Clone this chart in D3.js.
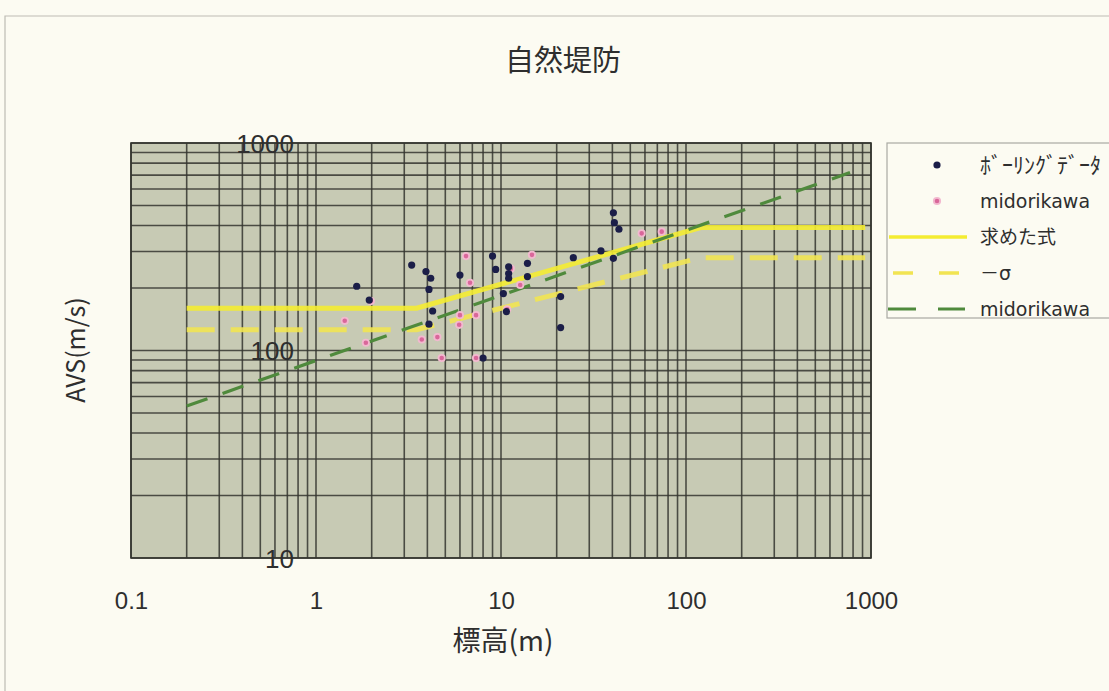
<!DOCTYPE html>
<html>
<head>
<meta charset="utf-8">
<script src="https://cdn.jsdelivr.net/npm/d3@7"></script>
<style>
  html, body { margin: 0; padding: 0; background: #fcfbf2; }
  svg { display: block; }
</style>
</head>
<body>
<svg id="chart" width="1109" height="691"></svg>
<script>
// Boring-log points: [標高 (m), AVS (m/s)]
const boringPoints = [
  [1.66, 204], [1.94, 175], [3.29, 258], [3.93, 240], [4.17, 223],
  [4.08, 197], [4.27, 155], [4.08, 134], [6.0, 231], [9.0, 285],
  [9.36, 246], [11.0, 253], [11.0, 235], [11.0, 223], [13.9, 263],
  [13.9, 227], [10.3, 188], [10.7, 154], [8.0, 92], [21, 182],
  [21, 129], [24.6, 280], [34.7, 302], [40.5, 278], [40.5, 461],
  [41, 413], [43.4, 384]
];

// Points after Midorikawa
const midorikawaPoints = [
  [1.43, 139], [1.86, 109], [1.98, 173], [3.73, 113], [4.53, 116],
  [4.78, 92], [5.94, 133], [6.0, 148], [7.33, 148], [7.33, 92],
  [6.47, 285], [6.8, 212], [11.3, 248], [12.7, 207], [14.7, 289],
  [10.8, 158], [57.6, 367], [73.9, 374]
];

// Fitted relation (求めた式), its −σ curve and the Midorikawa line
const fitLine = [[0.2, 160], [3.5, 160], [120, 391], [930, 391]];
const sigmaLine = [[0.2, 126], [3.5, 126], [120, 280], [930, 280]];
const midorikawaLine = [[0.2, 54], [770, 720]];

const xDomain = [0.1, 1000];
const yDomain = [10, 1000];
const xTickLabels = [0.1, 1, 10, 100, 1000];
const yTickLabels = [10, 100, 1000];

const legendLabels = ["ﾎﾞｰﾘﾝｸﾞﾃﾞｰﾀ", "midorikawa", "求めた式", "－σ", "midorikawa"];

const svg = d3.select("#chart");
const W = 1109, H = 691;
const plot = { left: 131, right: 871, top: 143, bottom: 558 };

const x = d3.scaleLog().domain(xDomain).range([plot.left, plot.right]);
const y = d3.scaleLog().domain(yDomain).range([plot.bottom, plot.top]);

const numFont = "'Liberation Sans', Arial, sans-serif";
const jpFont = "'Noto Sans CJK JP', sans-serif";
const ink = "#2e2e2e";

// Chart-area frame
svg.append("path")
  .attr("d", `M5,${H} V16 H${W}`)
  .attr("fill", "none")
  .attr("stroke", "#bdbcb4")
  .attr("stroke-width", 1.2);

// Title
svg.append("text")
  .attr("x", 563).attr("y", 71)
  .attr("text-anchor", "middle")
  .attr("font-family", jpFont)
  .attr("font-size", 29)
  .attr("fill", ink)
  .text("自然堤防");

// Plot background
svg.append("rect")
  .attr("x", plot.left).attr("y", plot.top)
  .attr("width", plot.right - plot.left)
  .attr("height", plot.bottom - plot.top)
  .attr("fill", "#c7cab4");

// Gridlines at every 1–9 multiple of each decade
const grid = svg.append("g")
  .attr("stroke", "#34352f")
  .attr("stroke-width", 1.6)
  .attr("stroke-opacity", 0.85);
grid.selectAll("line.v").data(x.ticks()).join("line")
  .attr("class", "v")
  .attr("x1", d => x(d)).attr("x2", d => x(d))
  .attr("y1", plot.top).attr("y2", plot.bottom);
grid.selectAll("line.h").data(y.ticks()).join("line")
  .attr("class", "h")
  .attr("y1", d => y(d)).attr("y2", d => y(d))
  .attr("x1", plot.left).attr("x2", plot.right);

// Plot border
svg.append("rect")
  .attr("x", plot.left).attr("y", plot.top)
  .attr("width", plot.right - plot.left)
  .attr("height", plot.bottom - plot.top)
  .attr("fill", "none")
  .attr("stroke", "#34352f")
  .attr("stroke-width", 1.6);

// Clip for data marks
svg.append("clipPath").attr("id", "plotClip")
  .append("rect")
  .attr("x", plot.left).attr("y", plot.top)
  .attr("width", plot.right - plot.left)
  .attr("height", plot.bottom - plot.top);

const marks = svg.append("g").attr("clip-path", "url(#plotClip)");
const line = d3.line().x(d => x(d[0])).y(d => y(d[1]));

const styles = {
  fit:   { stroke: "#f4ec32", width: 5, dash: null },
  sigma: { stroke: "#f1e452", width: 5, dash: "28,16" },
  mido:  { stroke: "#4f8a3c", width: 3.2, dash: "22,16" }
};

marks.append("path").datum(sigmaLine)
  .attr("d", line).attr("fill", "none")
  .attr("stroke", styles.sigma.stroke).attr("stroke-width", styles.sigma.width)
  .attr("stroke-dasharray", styles.sigma.dash).attr("stroke-opacity", 0.9);
marks.append("path").datum(fitLine)
  .attr("d", line).attr("fill", "none")
  .attr("stroke", styles.fit.stroke).attr("stroke-width", styles.fit.width)
  .attr("stroke-opacity", 0.9);
marks.append("path").datum(midorikawaLine)
  .attr("d", line).attr("fill", "none")
  .attr("stroke", styles.mido.stroke).attr("stroke-width", styles.mido.width)
  .attr("stroke-dasharray", styles.mido.dash);

// Scatter points
marks.selectAll("circle.mido").data(midorikawaPoints).join("circle")
  .attr("class", "mido")
  .attr("cx", d => x(d[0])).attr("cy", d => y(d[1]))
  .attr("r", 3.2)
  .attr("fill", "#d9679a")
  .attr("stroke", "#f2b9cf").attr("stroke-width", 1.8);
marks.selectAll("circle.boring").data(boringPoints).join("circle")
  .attr("class", "boring")
  .attr("cx", d => x(d[0])).attr("cy", d => y(d[1]))
  .attr("r", 3.6)
  .attr("fill", "#1b1e48");

// Axes crossing the way the spreadsheet draws them:
// the value axis sits at 標高 = 1, the category axis along AVS = 10.
const fmt = d => String(d);
const yAxis = d3.axisLeft(y).tickValues(yTickLabels).tickFormat(fmt)
  .tickSize(0).tickPadding(22);
const gy = svg.append("g").attr("transform", `translate(${x(1)},0)`).call(yAxis);
gy.select(".domain").remove();
gy.selectAll("text")
  .attr("font-family", numFont).attr("font-size", 26).attr("fill", ink)
  .attr("dy", "0.36em");

const xAxis = d3.axisBottom(x).tickValues(xTickLabels).tickFormat(fmt)
  .tickSize(0).tickPadding(34);
const gx = svg.append("g").attr("transform", `translate(0,${y(10)})`).call(xAxis);
gx.select(".domain").remove();
gx.selectAll("text")
  .attr("font-family", numFont).attr("font-size", 24).attr("fill", ink);

// Axis titles
svg.append("text")
  .attr("transform", "translate(85,350) rotate(-90)")
  .attr("text-anchor", "middle")
  .attr("font-family", jpFont)
  .attr("font-size", 25)
  .attr("fill", ink)
  .text("AVS(m/s)");
svg.append("text")
  .attr("x", 503).attr("y", 651)
  .attr("text-anchor", "middle")
  .attr("font-family", jpFont)
  .attr("font-size", 28)
  .attr("fill", ink)
  .text("標高(m)");

// Legend
const lg = svg.append("g");
lg.append("rect")
  .attr("x", 887).attr("y", 143)
  .attr("width", 240).attr("height", 175)
  .attr("fill", "#fcfbf2")
  .attr("stroke", "#a9a9a2").attr("stroke-width", 1.2);

const rowY = [165, 201, 237, 273, 309];
const legendFont = "'DejaVu Sans', 'Noto Sans CJK JP', sans-serif";
lg.append("circle").attr("cx", 937).attr("cy", rowY[0]).attr("r", 3.6).attr("fill", "#1b1e48");
lg.append("circle").attr("cx", 937).attr("cy", rowY[1]).attr("r", 3.2)
  .attr("fill", "#d9679a").attr("stroke", "#f2b9cf").attr("stroke-width", 1.8);
lg.append("line").attr("x1", 889).attr("x2", 967).attr("y1", rowY[2]).attr("y2", rowY[2])
  .attr("stroke", styles.fit.stroke).attr("stroke-width", 3.5);
lg.append("line").attr("x1", 893).attr("x2", 965).attr("y1", rowY[3]).attr("y2", rowY[3])
  .attr("stroke", styles.sigma.stroke).attr("stroke-width", 3.5).attr("stroke-dasharray", "20,26");
lg.append("line").attr("x1", 888).attr("x2", 965).attr("y1", rowY[4]).attr("y2", rowY[4])
  .attr("stroke", styles.mido.stroke).attr("stroke-width", 3.2).attr("stroke-dasharray", "28,22");

lg.selectAll("text").data(legendLabels).join("text")
  .attr("x", 980).attr("y", (d, i) => rowY[i])
  .attr("dy", "0.35em")
  .attr("font-family", legendFont)
  .attr("font-size", (d, i) => i === 0 ? 22 : 19)
  .attr("fill", ink)
  .text(d => d);
</script>
</body>
</html>
